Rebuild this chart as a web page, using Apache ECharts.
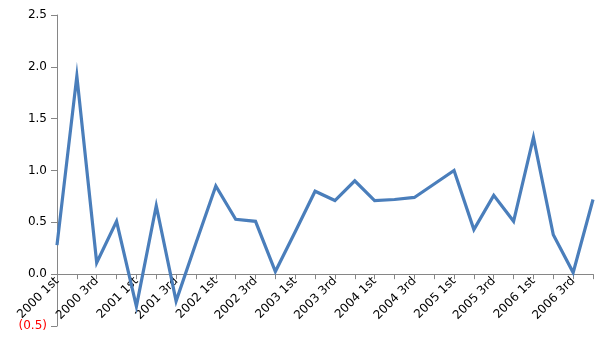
<!DOCTYPE html>
<html><head><meta charset="utf-8">
<script src="https://cdn.jsdelivr.net/npm/echarts@6/dist/echarts.min.js"></script>
<style>html,body{margin:0;padding:0;background:#fff}#c{width:605px;height:340px}</style>
</head><body><div id="c"></div>
<script>
var categories = [
 '2000 1st','2000 2nd','2000 3rd','2000 4th',
 '2001 1st','2001 2nd','2001 3rd','2001 4th',
 '2002 1st','2002 2nd','2002 3rd','2002 4th',
 '2003 1st','2003 2nd','2003 3rd','2003 4th',
 '2004 1st','2004 2nd','2004 3rd','2004 4th',
 '2005 1st','2005 2nd','2005 3rd','2005 4th',
 '2006 1st','2006 2nd','2006 3rd','2006 4th'
];
var values = [
 0.28, 1.91, 0.11, 0.51,
 -0.31, 0.66, -0.26, 0.30,
 0.85, 0.53, 0.51, 0.025,
 0.41, 0.80, 0.71, 0.90,
 0.71, 0.72, 0.74, 0.87,
 1.00, 0.43, 0.76, 0.51,
 1.32, 0.38, 0.015, 0.72
];
var yMin = -0.5, yMax = 2.5, yStep = 0.5;
var W = 605, H = 340, gTop = 15, gBottom = 14, gLeft = 57, gRight = 12;
var gridH = H - gTop - gBottom;
var zeroOffset = -gridH * (0 - yMin) / (yMax - yMin);
var chart = echarts.init(document.getElementById('c'));
chart.setOption({
  animation: false,
  grid: {left: gLeft, right: gRight, top: gTop, bottom: gBottom, containLabel: false, outerBoundsMode: 'none'},
  xAxis: {
    type: 'category', data: categories, boundaryGap: false,
    offset: zeroOffset,
    axisLine: {onZero: false, lineStyle: {color: '#868686', width: 1}},
    axisTick: {show: true, interval: 0, length: 5, lineStyle: {color: '#868686'}},
    axisLabel: {interval: 1, rotate: 45, color: '#000', fontFamily: 'DejaVu Sans', fontSize: 12, margin: 5, hideOverlap: false},
    splitLine: {show: false}
  },
  yAxis: {
    type: 'value', min: yMin, max: yMax, interval: yStep,
    axisLine: {show: true, lineStyle: {color: '#868686', width: 1}},
    axisTick: {show: true, length: 6, lineStyle: {color: '#868686'}},
    splitLine: {show: false},
    axisLabel: {
      color: '#000', fontFamily: 'DejaVu Sans', fontSize: 12, margin: 10,
      formatter: function (v) {
        if (v < 0) return '{neg|(' + Math.abs(v).toFixed(1) + ')}';
        return v.toFixed(1);
      },
      rich: {neg: {color: '#ff0000', fontFamily: 'DejaVu Sans', fontSize: 12}}
    }
  },
  series: [{
    type: 'line', data: values, showSymbol: false, symbol: 'none',
    lineStyle: {color: '#4a7ebb', width: 3.2, join: 'miter'},
    itemStyle: {color: '#4a7ebb'}
  }]
});
</script></body></html>
